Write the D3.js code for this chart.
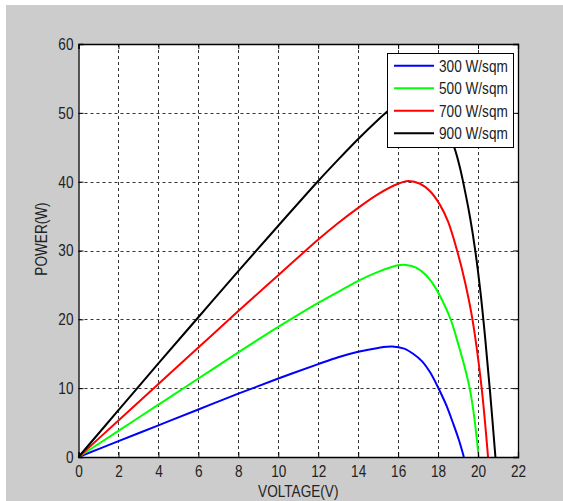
<!DOCTYPE html>
<html>
<head>
<meta charset="utf-8">
<script src="https://cdn.jsdelivr.net/npm/d3@7"></script>
<style>
  html, body { margin: 0; padding: 0; background: #ffffff; }
  svg { display: block; }
  text { font-family: "Liberation Sans", Arial, sans-serif; fill: #222222; }
</style>
</head>
<body>
<script>
// P-V curves of a PV module at four irradiance levels

// voltage / power pairs
const series300 = [[0,0],[2,2.3],[4,4.6],[6,6.9],[8,9.2],[10,11.4],[12,13.5],[13,14.5],[14,15.3],[15,15.85],[15.7,16.05],[16.3,15.75],[16.75,15.0],[17.2,13.9],[17.6,12.3],[18,10.1],[18.4,7.6],[18.75,4.9],[19.05,2.4],[19.29,0]];
const series500 = [[0,0],[2,3.8],[4,7.6],[6,11.4],[8,15.2],[10,18.9],[12,22.4],[13,24.0],[14,25.6],[15,26.9],[16,27.85],[16.4,27.9],[16.9,27.5],[17.4,26.4],[17.8,24.9],[18.2,22.8],[18.64,19.9],[19,16.5],[19.3,13.4],[19.58,10],[19.8,6.0],[20.03,0]];
const series700 = [[0,0],[2,5.3],[4,10.6],[6,15.9],[8,21.2],[10,26.4],[12,31.6],[13,34.0],[14,36.2],[15,38.2],[16,39.7],[16.5,40.1],[17.1,39.7],[17.6,38.6],[18.08,36.7],[18.5,34.2],[18.95,30.0],[19.35,25.4],[19.72,20],[20.17,10.3],[20.5,0]];
const series900 = [[0,0],[2,6.8],[4,13.6],[6,20.3],[8,27.0],[10,33.6],[12,40.1],[13,43.2],[14,46.2],[15,49.0],[15.5,50.3],[16,51.4],[16.5,52.1],[17,52.2],[17.5,51.5],[18,49.7],[18.5,47.1],[18.83,44.8],[19.08,42.2],[19.25,40],[19.6,34.8],[19.85,30.2],[20.1,24.5],[20.35,17.5],[20.6,9.5],[20.87,0]];

const seriesLabels = ["300 W/sqm", "500 W/sqm", "700 W/sqm", "900 W/sqm"];
const seriesColors = ["#0000ff", "#00ff00", "#ff0000", "#000000"];
const allSeries = [series300, series500, series700, series900];

const xTicks = [0, 2, 4, 6, 8, 10, 12, 14, 16, 18, 20, 22];
const yTicks = [0, 10, 20, 30, 40, 50, 60];

const W = 563, H = 501;
const plot = { left: 78.5, right: 518, top: 44, bottom: 457 };
const fontSize = 17;
const squeeze = 0.8; // the original font is a narrow one

const svg = d3.select("body").append("svg")
  .attr("width", W)
  .attr("height", H);

// figure background
svg.append("rect").attr("width", W).attr("height", H).attr("fill", "#ffffff");
svg.append("rect").attr("x", 6).attr("y", 5).attr("width", W - 6).attr("height", H - 5).attr("fill", "#cccccc");

// axes area
svg.append("rect")
  .attr("x", plot.left).attr("y", plot.top)
  .attr("width", plot.right - plot.left).attr("height", plot.bottom - plot.top)
  .attr("fill", "#ffffff");

const x = d3.scaleLinear().domain([0, 22]).range([plot.left, plot.right]);
const y = d3.scaleLinear().domain([0, 60]).range([plot.bottom, plot.top]);

// dashed grid
const grid = svg.append("g")
  .attr("stroke", "#333333")
  .attr("stroke-width", 1)
  .attr("stroke-dasharray", "3,3");

grid.selectAll(".vgrid")
  .data(xTicks.slice(1, -1))
  .enter().append("line")
  .attr("x1", d => Math.round(x(d)) + 0.5)
  .attr("x2", d => Math.round(x(d)) + 0.5)
  .attr("y1", plot.top)
  .attr("y2", plot.bottom);

grid.selectAll(".hgrid")
  .data(yTicks.slice(1, -1))
  .enter().append("line")
  .attr("y1", d => Math.round(y(d)) + 0.5)
  .attr("y2", d => Math.round(y(d)) + 0.5)
  .attr("x1", plot.left)
  .attr("x2", plot.right);

// curves
const line = d3.line()
  .x(d => x(d[0]))
  .y(d => y(d[1]))
  .curve(d3.curveCatmullRom.alpha(0.5));

svg.selectAll(".curve")
  .data(allSeries)
  .enter().append("path")
  .attr("class", "curve")
  .attr("fill", "none")
  .attr("stroke", (d, i) => seriesColors[i])
  .attr("stroke-width", 2)
  .attr("stroke-linejoin", "round")
  .attr("d", line);

// axes with inward ticks on all four sides
const xAxis = d3.axisBottom(x).tickValues(xTicks).tickSize(-5).tickPadding(8);
const yAxis = d3.axisLeft(y).tickValues(yTicks).tickSize(-5).tickPadding(5);

svg.append("g")
  .attr("transform", "translate(0," + plot.bottom + ")")
  .call(xAxis);

svg.append("g")
  .attr("transform", "translate(" + plot.left + ",0)")
  .call(yAxis);

svg.append("g")
  .attr("transform", "translate(0," + plot.top + ")")
  .call(d3.axisTop(x).tickValues(xTicks).tickSize(-5).tickFormat(""));

svg.append("g")
  .attr("transform", "translate(" + plot.right + ",0)")
  .call(d3.axisRight(y).tickValues(yTicks).tickSize(-5).tickFormat(""));

svg.selectAll(".domain").attr("stroke", "#000000").attr("stroke-width", 1.3);
svg.selectAll(".tick line").attr("stroke", "#000000");
svg.selectAll(".tick text")
  .attr("font-size", fontSize)
  .attr("font-family", null)
  .attr("fill", "#222222");

// axis titles
svg.append("text")
  .attr("x", (plot.left + plot.right) / 2)
  .attr("y", 497)
  .attr("text-anchor", "middle")
  .attr("font-size", fontSize)
  .text("VOLTAGE(V)");

svg.append("text")
  .attr("transform", "translate(47,239) rotate(-90)")
  .attr("text-anchor", "middle")
  .attr("font-size", fontSize)
  .text("POWER(W)");

// legend
const legend = svg.append("g");

legend.append("rect")
  .attr("x", 387.5).attr("y", 53.5)
  .attr("width", 126).attr("height", 94)
  .attr("fill", "#ffffff")
  .attr("stroke", "#000000")
  .attr("stroke-width", 1);

const rows = legend.selectAll(".row")
  .data(seriesLabels)
  .enter().append("g")
  .attr("transform", (d, i) => "translate(0," + (65.7 + i * 22.5) + ")");

rows.append("line")
  .attr("x1", 394).attr("x2", 434)
  .attr("stroke", (d, i) => seriesColors[i])
  .attr("stroke-width", 2);

rows.append("text")
  .attr("x", 439)
  .attr("dy", "0.36em")
  .attr("font-size", fontSize)
  .text(d => d);

// squeeze every label to the narrow width of the original
svg.selectAll("text").each(function() {
  const len = this.getComputedTextLength();
  d3.select(this)
    .attr("textLength", len * squeeze)
    .attr("lengthAdjust", "spacingAndGlyphs");
});
</script>
</body>
</html>
